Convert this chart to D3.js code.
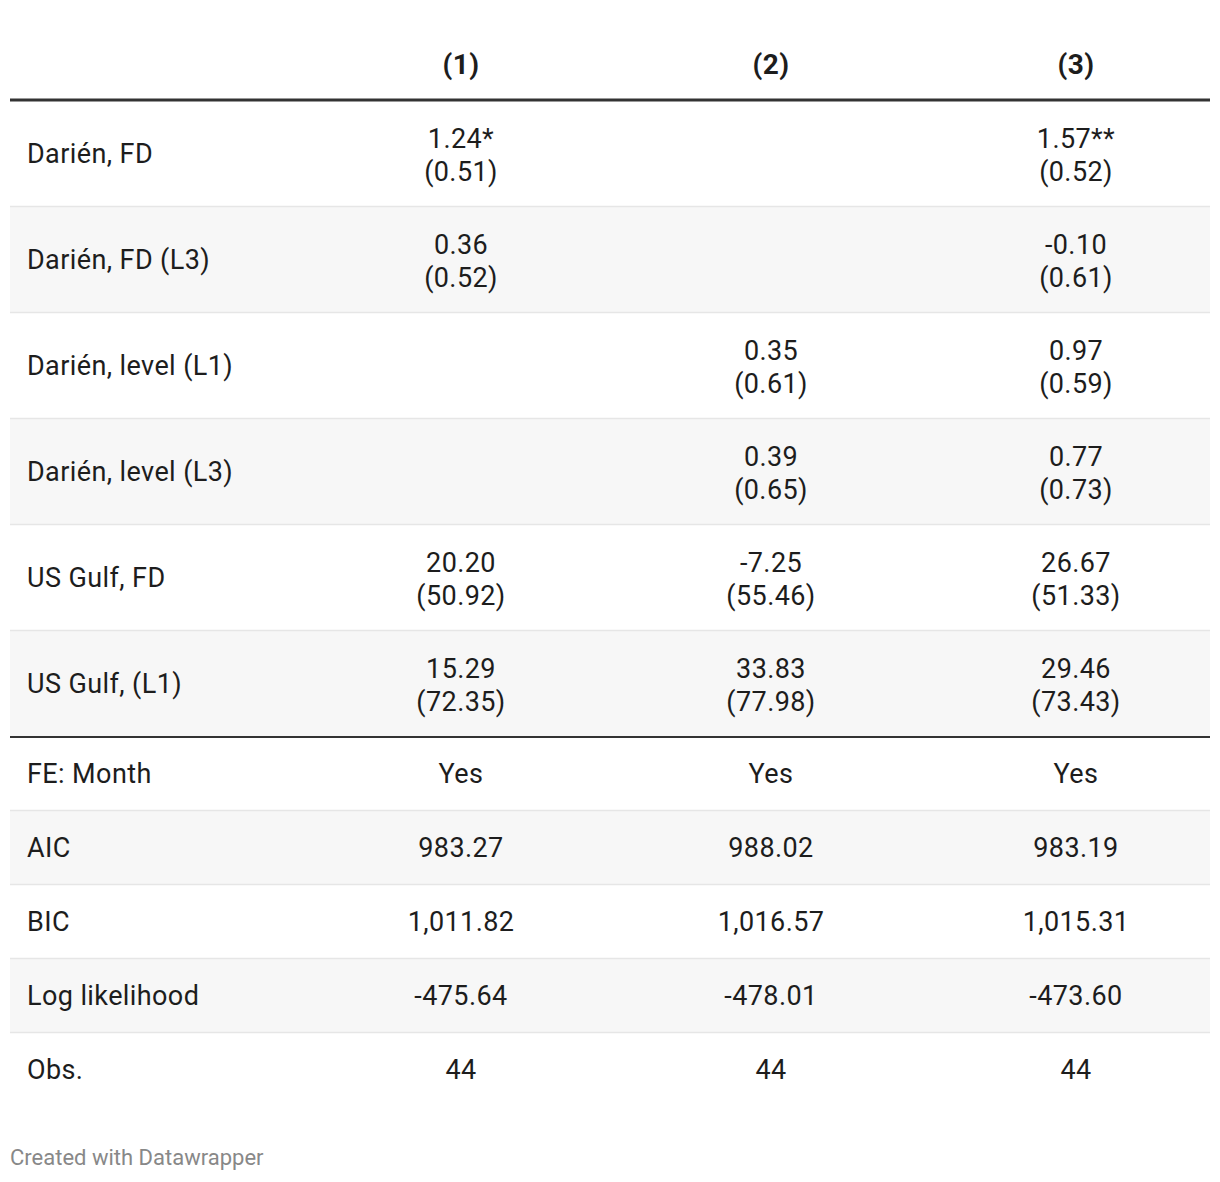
<!DOCTYPE html>
<html><head><meta charset="utf-8">
<script src="https://cdn.jsdelivr.net/npm/d3@7"></script>
<style>
html,body{margin:0;padding:0;background:#fff;}
svg text{font-family:Roboto,"Noto Sans",sans-serif;}
</style></head>
<body>
<svg id="chart" width="1220" height="1182"></svg>
<script>
const columns = ["(1)", "(2)", "(3)"];
const coefLabels = ["Darién, FD", "Darién, FD (L3)", "Darién, level (L1)", "Darién, level (L3)", "US Gulf, FD", "US Gulf, (L1)"];
const coefCol1 = [["1.24*", "(0.51)"], ["0.36", "(0.52)"], null, null, ["20.20", "(50.92)"], ["15.29", "(72.35)"]];
const coefCol2 = [null, null, ["0.35", "(0.61)"], ["0.39", "(0.65)"], ["-7.25", "(55.46)"], ["33.83", "(77.98)"]];
const coefCol3 = [["1.57**", "(0.52)"], ["-0.10", "(0.61)"], ["0.97", "(0.59)"], ["0.77", "(0.73)"], ["26.67", "(51.33)"], ["29.46", "(73.43)"]];
const statLabels = ["FE: Month", "AIC", "BIC", "Log likelihood", "Obs."];
const statCol1 = ["Yes", "983.27", "1,011.82", "-475.64", "44"];
const statCol2 = ["Yes", "988.02", "1,016.57", "-478.01", "44"];
const statCol3 = ["Yes", "983.19", "1,015.31", "-473.60", "44"];
const footer = "Created with Datawrapper";

const svg = d3.select("#chart");
const left = 10, right = 1210;
const colX = d3.scaleOrdinal().domain(columns).range([461, 771, 1076]);
const coefY = d3.scaleBand().domain(coefLabels).range([101, 737]).padding(0);
const statY = d3.scaleBand().domain(statLabels).range([737, 1107]).padding(0);
const coefCols = [coefCol1, coefCol2, coefCol3];
const statCols = [statCol1, statCol2, statCol3];
const textColor = "#1d1d1d";
const fs = 27, ls = "0.4px";

// header
svg.selectAll("text.head").data(columns).join("text")
  .attr("class", "head")
  .attr("x", d => colX(d)).attr("y", 74)
  .attr("text-anchor", "middle")
  .attr("font-size", 28).attr("font-weight", 700).attr("letter-spacing", ls)
  .attr("fill", textColor).text(d => d);

function drawRows(labels, yScale) {
  const g = svg.append("g");
  g.selectAll("rect").data(labels).join("rect")
    .attr("x", left).attr("width", right - left)
    .attr("y", d => yScale(d)).attr("height", yScale.bandwidth())
    .attr("fill", (d, i) => (i % 2 === 1) ? "#f7f7f7" : "#ffffff");
  g.selectAll("line").data(labels.slice(0, -1)).join("line")
    .attr("x1", left).attr("x2", right)
    .attr("y1", d => yScale(d) + yScale.bandwidth() - 0.5)
    .attr("y2", d => yScale(d) + yScale.bandwidth() - 0.5)
    .attr("stroke", "#e6e6e6").attr("stroke-width", 1.5);
  g.selectAll("text.lab").data(labels).join("text")
    .attr("class", "lab")
    .attr("x", 27).attr("y", d => yScale(d) + yScale.bandwidth() / 2 + 9)
    .attr("font-size", fs).attr("letter-spacing", ls).attr("fill", textColor).text(d => d);
}
drawRows(coefLabels, coefY);
drawRows(statLabels, statY);

// coefficient cells
coefCols.forEach((col, ci) => {
  const x = colX(columns[ci]);
  col.forEach((cell, ri) => {
    if (!cell) return;
    const yc = coefY(coefLabels[ri]) + coefY.bandwidth() / 2;
    svg.append("text").attr("x", x).attr("y", yc - 6)
      .attr("text-anchor", "middle").attr("font-size", fs).attr("letter-spacing", ls).attr("fill", textColor).text(cell[0]);
    svg.append("text").attr("x", x).attr("y", yc + 27)
      .attr("text-anchor", "middle").attr("font-size", fs).attr("letter-spacing", ls).attr("fill", textColor).text(cell[1]);
  });
});

// stat cells
statCols.forEach((col, ci) => {
  const x = colX(columns[ci]);
  svg.selectAll(null).data(col).join("text")
    .attr("x", x).attr("y", (d, ri) => statY(statLabels[ri]) + statY.bandwidth() / 2 + 9)
    .attr("text-anchor", "middle").attr("font-size", fs).attr("letter-spacing", ls).attr("fill", textColor).text(d => d);
});

// rules
svg.append("line").attr("x1", left).attr("x2", right).attr("y1", 100).attr("y2", 100)
  .attr("stroke", "#333").attr("stroke-width", 3);
svg.append("line").attr("x1", left).attr("x2", right).attr("y1", 737).attr("y2", 737)
  .attr("stroke", "#333").attr("stroke-width", 2);

// footer
svg.append("text").attr("x", 10).attr("y", 1165)
  .attr("font-size", 22).attr("fill", "#888").text(footer);
</script>
</body></html>
